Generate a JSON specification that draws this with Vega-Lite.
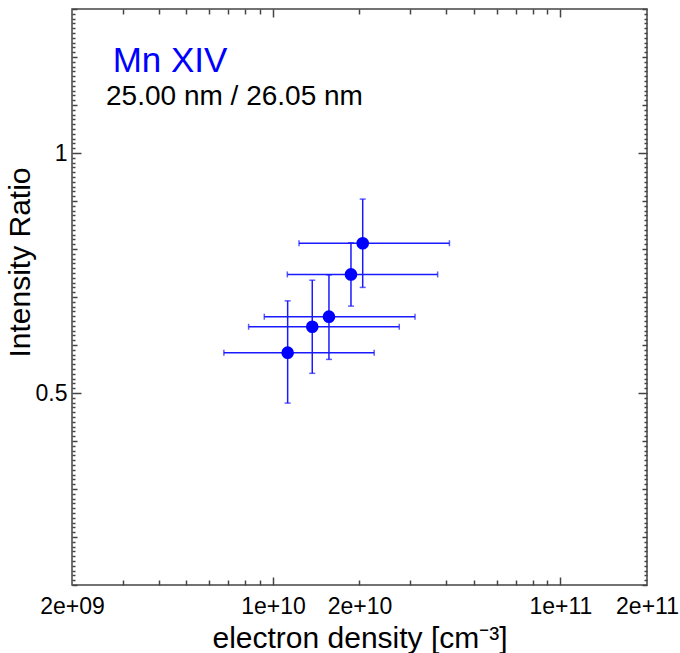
{
  "$schema": "https://vega.github.io/schema/vega-lite/v6.json",
  "width": 575,
  "height": 576,
  "autosize": "none",
  "padding": {"left": 72, "top": 9, "right": 33, "bottom": 68},
  "background": "white",
  "datasets": {
    "pts": [
      {"n": 1.125e10, "nlo": 6.75e9, "nhi": 2.25e10, "r": 0.584, "rlo": 0.479, "rhi": 0.692},
      {"n": 1.370e10, "nlo": 8.23e9, "nhi": 2.75e10, "r": 0.638, "rlo": 0.541, "rhi": 0.735},
      {"n": 1.566e10, "nlo": 9.33e9, "nhi": 3.12e10, "r": 0.659, "rlo": 0.570, "rhi": 0.746},
      {"n": 1.868e10, "nlo": 1.122e10, "nhi": 3.74e10, "r": 0.747, "rlo": 0.681, "rhi": 0.813},
      {"n": 2.052e10, "nlo": 1.232e10, "nhi": 4.11e10, "r": 0.812, "rlo": 0.720, "rhi": 0.904}
    ],
    "ion": [{"label": "Mn XIV", "x": 2.77e9, "y": 1.169}],
    "lines": [{"label": "25.00 nm / 26.05 nm", "x": 2.627e9, "y": 1.1}]
  },
  "resolve": {"scale": {"x": "shared", "y": "shared"}, "axis": {"x": "independent", "y": "independent"}},
  "layer": [
    {
      "data": {"name": "pts"},
      "mark": {"type": "errorbar", "ticks": true, "size": 6, "thickness": 1.5, "color": "#1a1aff"},
      "encoding": {
        "x": {"field": "nlo", "type": "quantitative", "scale": {"type": "log", "domain": [2e9, 2e11], "nice": false}, "axis": null},
        "x2": {"field": "nhi"},
        "y": {"field": "r", "type": "quantitative", "scale": {"domain": [0.1, 1.3], "nice": false, "zero": false}, "axis": null}
      }
    },
    {
      "data": {"name": "pts"},
      "mark": {"type": "errorbar", "ticks": true, "size": 6, "thickness": 1.5, "color": "#1a1aff"},
      "encoding": {
        "y": {"field": "rlo", "type": "quantitative", "scale": {"domain": [0.1, 1.3], "nice": false, "zero": false}, "axis": null},
        "y2": {"field": "rhi"},
        "x": {"field": "n", "type": "quantitative", "scale": {"type": "log", "domain": [2e9, 2e11], "nice": false}, "axis": null}
      }
    },
    {
      "data": {"name": "pts"},
      "mark": {"type": "circle", "size": 160, "color": "#0000ff", "opacity": 1},
      "encoding": {
        "x": {"field": "n", "type": "quantitative", "scale": {"type": "log", "domain": [2e9, 2e11], "nice": false},
          "axis": {"orient": "bottom", "values": [2e9, 1e10, 2e10, 1e11, 2e11], "ticks": false, "labelPadding": 10, "labelFlush": false, "labelOverlap": false,
            "labelExpr": "datum.value < 5e9 ? '2e+09' : datum.value < 1.5e10 ? '1e+10' : datum.value < 5e10 ? '2e+10' : datum.value < 1.5e11 ? '1e+11' : '2e+11'",
            "title": "electron density [cm⁻³]", "titlePadding": 5}},
        "y": {"field": "r", "type": "quantitative", "scale": {"domain": [0.1, 1.3], "nice": false, "zero": false},
          "axis": {"orient": "left", "values": [0.5, 1], "ticks": false, "labelPadding": 5, "labelExpr": "datum.value == 1 ? '1' : '0.5'",
            "title": "Intensity Ratio", "titleX": -37, "titleY": 253}}
      }
    },
    {
      "data": {"name": "ion"},
      "mark": {"type": "text", "align": "left", "baseline": "alphabetic", "font": "Liberation Sans", "fontSize": 35, "color": "#0000ff"},
      "encoding": {
        "text": {"field": "label"},
        "x": {"field": "x", "type": "quantitative", "scale": {"type": "log", "domain": [2e9, 2e11], "nice": false},
          "axis": {"orient": "bottom", "values": [1e10, 1e11], "tickSize": -8, "labels": false, "title": null}},
        "y": {"field": "y", "type": "quantitative", "scale": {"domain": [0.1, 1.3], "nice": false, "zero": false},
          "axis": {"orient": "left", "values": [0.5, 1], "tickSize": -9, "labels": false, "title": null}}
      }
    },
    {
      "data": {"name": "lines"},
      "mark": {"type": "text", "align": "left", "baseline": "alphabetic", "font": "Liberation Sans", "fontSize": 28, "color": "#000000"},
      "encoding": {
        "text": {"field": "label"},
        "x": {"field": "x", "type": "quantitative", "scale": {"type": "log", "domain": [2e9, 2e11], "nice": false},
          "axis": {"orient": "bottom", "values": [3e9, 4e9, 5e9, 6e9, 7e9, 8e9, 9e9, 2e10, 3e10, 4e10, 5e10, 6e10, 7e10, 8e10, 9e10], "tickSize": -5, "labels": false, "title": null}},
        "y": {"field": "y", "type": "quantitative", "scale": {"domain": [0.1, 1.3], "nice": false, "zero": false},
          "axis": {"orient": "left", "values": [0.1, 0.2, 0.3, 0.4, 0.6, 0.7, 0.8, 0.9, 1.1, 1.2, 1.3], "tickSize": -5, "labels": false, "title": null}}
      }
    },
    {
      "data": {"name": "pts"},
      "mark": {"type": "point", "opacity": 0},
      "encoding": {
        "x": {"field": "n", "type": "quantitative", "scale": {"type": "log", "domain": [2e9, 2e11], "nice": false},
          "axis": {"orient": "top", "values": [1e10, 1e11], "tickSize": -8, "labels": false, "title": null}},
        "y": {"field": "r", "type": "quantitative", "scale": {"domain": [0.1, 1.3], "nice": false, "zero": false},
          "axis": {"orient": "left", "tickSize": -3, "labels": false, "title": null,
            "values": [0.11,0.12,0.13,0.14,0.15,0.16,0.17,0.18,0.19,0.21,0.22,0.23,0.24,0.25,0.26,0.27,0.28,0.29,0.31,0.32,0.33,0.34,0.35,0.36,0.37,0.38,0.39,0.41,0.42,0.43,0.44,0.45,0.46,0.47,0.48,0.49,0.51,0.52,0.53,0.54,0.55,0.56,0.57,0.58,0.59,0.61,0.62,0.63,0.64,0.65,0.66,0.67,0.68,0.69,0.71,0.72,0.73,0.74,0.75,0.76,0.77,0.78,0.79,0.81,0.82,0.83,0.84,0.85,0.86,0.87,0.88,0.89,0.91,0.92,0.93,0.94,0.95,0.96,0.97,0.98,0.99,1.01,1.02,1.03,1.04,1.05,1.06,1.07,1.08,1.09,1.11,1.12,1.13,1.14,1.15,1.16,1.17,1.18,1.19,1.21,1.22,1.23,1.24,1.25,1.26,1.27,1.28,1.29]}}
      }
    },
    {
      "data": {"name": "pts"},
      "mark": {"type": "point", "opacity": 0},
      "encoding": {
        "x": {"field": "n", "type": "quantitative", "scale": {"type": "log", "domain": [2e9, 2e11], "nice": false},
          "axis": {"orient": "top", "values": [3e9, 4e9, 5e9, 6e9, 7e9, 8e9, 9e9, 2e10, 3e10, 4e10, 5e10, 6e10, 7e10, 8e10, 9e10], "tickSize": -5, "labels": false, "title": null}},
        "y": {"field": "r", "type": "quantitative", "scale": {"domain": [0.1, 1.3], "nice": false, "zero": false},
          "axis": {"orient": "right", "values": [0.5, 1], "tickSize": -9, "labels": false, "title": null}}
      }
    },
    {
      "data": {"name": "pts"},
      "mark": {"type": "point", "opacity": 0},
      "encoding": {
        "x": {"field": "n", "type": "quantitative", "scale": {"type": "log", "domain": [2e9, 2e11], "nice": false}, "axis": null},
        "y": {"field": "r", "type": "quantitative", "scale": {"domain": [0.1, 1.3], "nice": false, "zero": false},
          "axis": {"orient": "right", "values": [0.1, 0.2, 0.3, 0.4, 0.6, 0.7, 0.8, 0.9, 1.1, 1.2, 1.3], "tickSize": -5, "labels": false, "title": null}}
      }
    },
    {
      "data": {"name": "pts"},
      "mark": {"type": "point", "opacity": 0},
      "encoding": {
        "x": {"field": "n", "type": "quantitative", "scale": {"type": "log", "domain": [2e9, 2e11], "nice": false}, "axis": null},
        "y": {"field": "r", "type": "quantitative", "scale": {"domain": [0.1, 1.3], "nice": false, "zero": false},
          "axis": {"orient": "right", "tickSize": -3, "labels": false, "title": null,
            "values": [0.11,0.12,0.13,0.14,0.15,0.16,0.17,0.18,0.19,0.21,0.22,0.23,0.24,0.25,0.26,0.27,0.28,0.29,0.31,0.32,0.33,0.34,0.35,0.36,0.37,0.38,0.39,0.41,0.42,0.43,0.44,0.45,0.46,0.47,0.48,0.49,0.51,0.52,0.53,0.54,0.55,0.56,0.57,0.58,0.59,0.61,0.62,0.63,0.64,0.65,0.66,0.67,0.68,0.69,0.71,0.72,0.73,0.74,0.75,0.76,0.77,0.78,0.79,0.81,0.82,0.83,0.84,0.85,0.86,0.87,0.88,0.89,0.91,0.92,0.93,0.94,0.95,0.96,0.97,0.98,0.99,1.01,1.02,1.03,1.04,1.05,1.06,1.07,1.08,1.09,1.11,1.12,1.13,1.14,1.15,1.16,1.17,1.18,1.19,1.21,1.22,1.23,1.24,1.25,1.26,1.27,1.28,1.29]}}
      }
    }
  ],
  "config": {
    "font": "Liberation Sans",
    "view": {"stroke": "#444444", "strokeWidth": 1.5},
    "axis": {"grid": false, "domain": false, "labelFont": "Liberation Sans", "titleFont": "Liberation Sans", "labelFontSize": 23, "titleFontSize": 30, "titleFontWeight": "normal", "labelColor": "#000000", "titleColor": "#000000", "tickColor": "#444444", "tickWidth": 1.5}
  }
}
